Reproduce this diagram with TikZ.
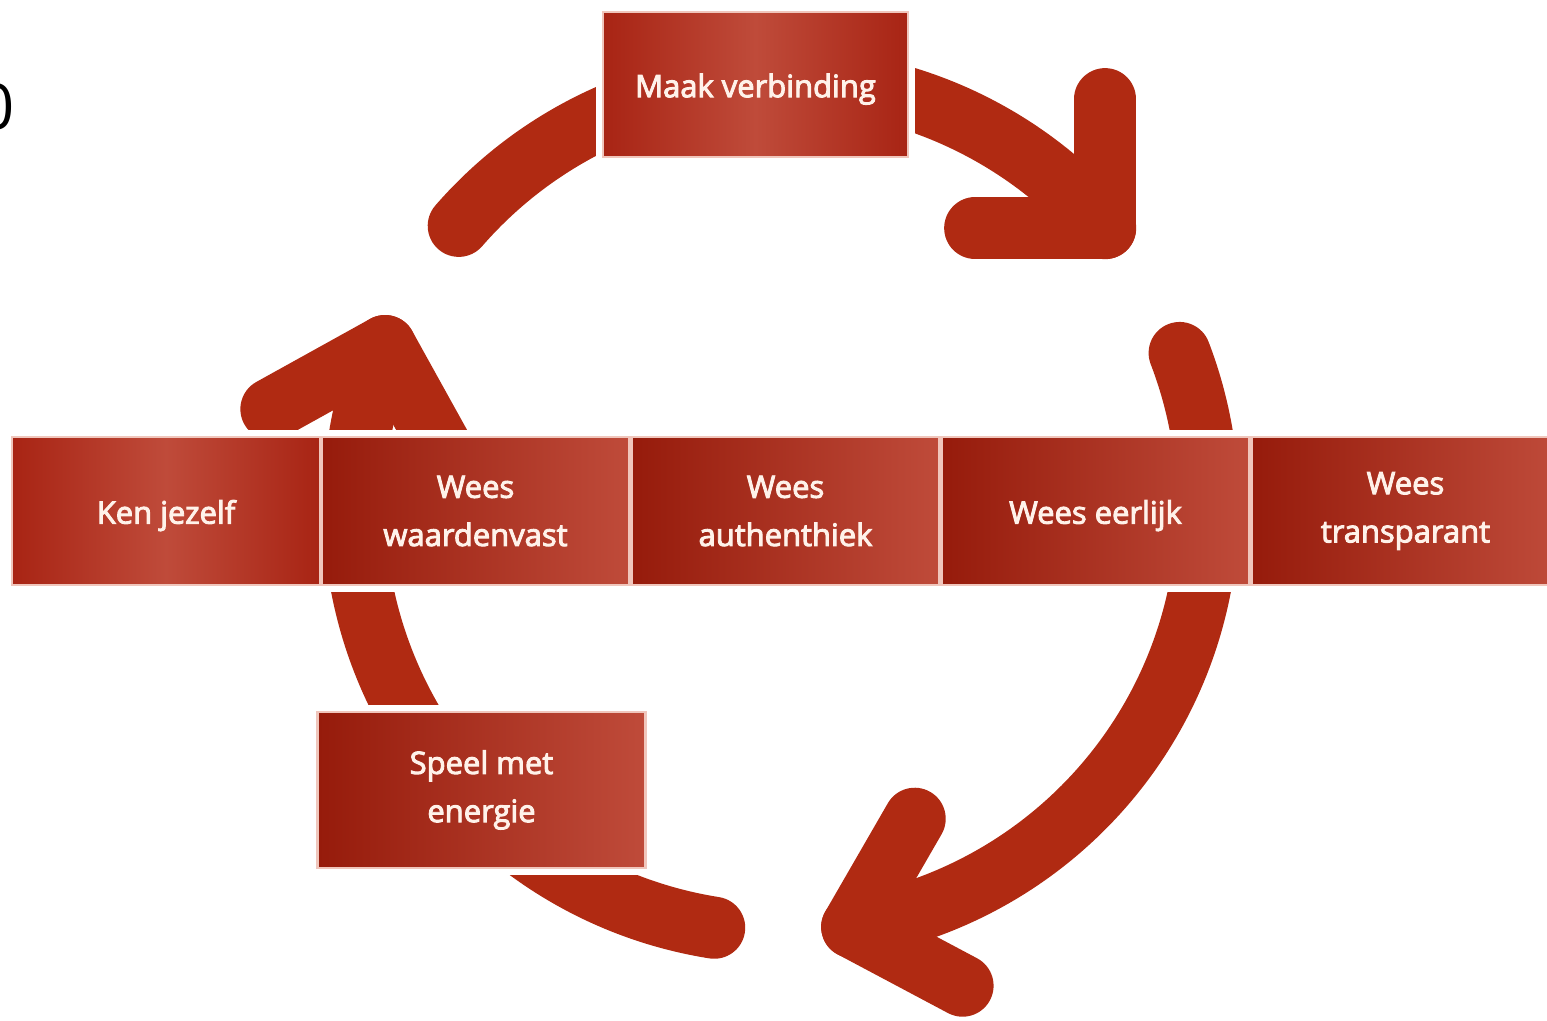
\documentclass[tikz,border=0pt]{standalone}
\usepackage{fontspec}
\setmainfont{Open Sans}
\newfontfamily\cardfont{Open Sans}[FakeBold=3]
\usepackage{xcolor}
\usepackage{tikz}
\usetikzlibrary{calc,backgrounds}
\definecolor{cRing}{HTML}{B02A12}
\definecolor{cDark}{HTML}{961B0B}
\definecolor{cLight}{HTML}{BF4B3A}
\definecolor{cEdge}{HTML}{A82414}
\definecolor{cRim}{HTML}{F0C6BC}
\definecolor{cText}{HTML}{FFF2EA}

\tikzset{
  ring/.style={draw=cRing, line width=0.62cm, line cap=round, line join=round},
  card/.style={draw=cRim, line width=0.8pt, text=cText, align=center, inner sep=0pt,
    font=\cardfont\fontsize{8.8pt}{13.7pt}\selectfont, left color=cDark, right color=cLight},
  glow/.style={left color=cEdge, right color=cEdge, middle color=cLight},
  oneline/.style={text height=1.35ex, text depth=0pt},
}

\begin{document}
\begin{tikzpicture}[x=0.01cm, y=0.01cm]
  \useasboundingbox (0,0) rectangle (1547,-1021);
  \clip (0,0) rectangle (1547,-1021);
  \coordinate (c) at (781,-506);

  \node[card, glow, oneline, minimum width=3.05cm, minimum height=1.45cm] (maak) at (755.5,-84.5) {Maak verbinding};
  \node[card, glow, oneline, minimum width=3.08cm, minimum height=1.48cm] (ken) at (166,-511) {Ken jezelf};
  \node[card, minimum width=3.08cm, minimum height=1.48cm] (waarde) at (475.5,-511) {Wees\\waardenvast};
  \node[card, minimum width=3.08cm, minimum height=1.48cm] (auth) at (785.5,-511) {Wees\\authenthiek};
  \node[card, oneline, minimum width=3.08cm, minimum height=1.48cm] (eerlijk) at (1095.5,-511) {Wees eerlijk};
  \node[card, minimum width=3.08cm, minimum height=1.48cm] (transp) at (1405.5,-511) {Wees\\transparant};
  \node[card, minimum width=3.27cm, minimum height=1.56cm] (speel) at (481.5,-790) {Speel met\\energie};
  \node[font=\fontsize{18pt}{20pt}\selectfont, inner sep=0pt] (nul) at (-3,-107) {0};

  \begin{pgfonlayer}{background}
    % the three arcs of the ring, ending in the arrow tips
    \draw[ring] ($(c)+(139:427)$) arc[start angle=139, end angle=40.6, radius=427] coordinate (t1);
    \draw[ring] ($(c)+(21:427)$) arc[start angle=21, end angle=-80.4, radius=427] coordinate (t2);
    \draw[ring] ($(c)+(-99:427)$) arc[start angle=-99, end angle=-202, radius=427] coordinate (t3);
    % arrow heads
    \draw[ring] ($(t1)+(180:130)$) -- (t1) -- ($(t1)+(90:129)$);
    \draw[ring] ($(t2)+(60:125)$) -- (t2) -- ($(t2)+(-28:125)$);
    \draw[ring] ($(t3)+(-61:125)$) -- (t3) -- ($(t3)+(209:130)$);
    % white margin round the cards
    \foreach \n in {maak,ken,waarde,auth,eerlijk,transp,speel}
      \fill[white] ($(\n.south west)+(-6,-6)$) rectangle ($(\n.north east)+(6,6)$);
  \end{pgfonlayer}
\end{tikzpicture}
\end{document}
